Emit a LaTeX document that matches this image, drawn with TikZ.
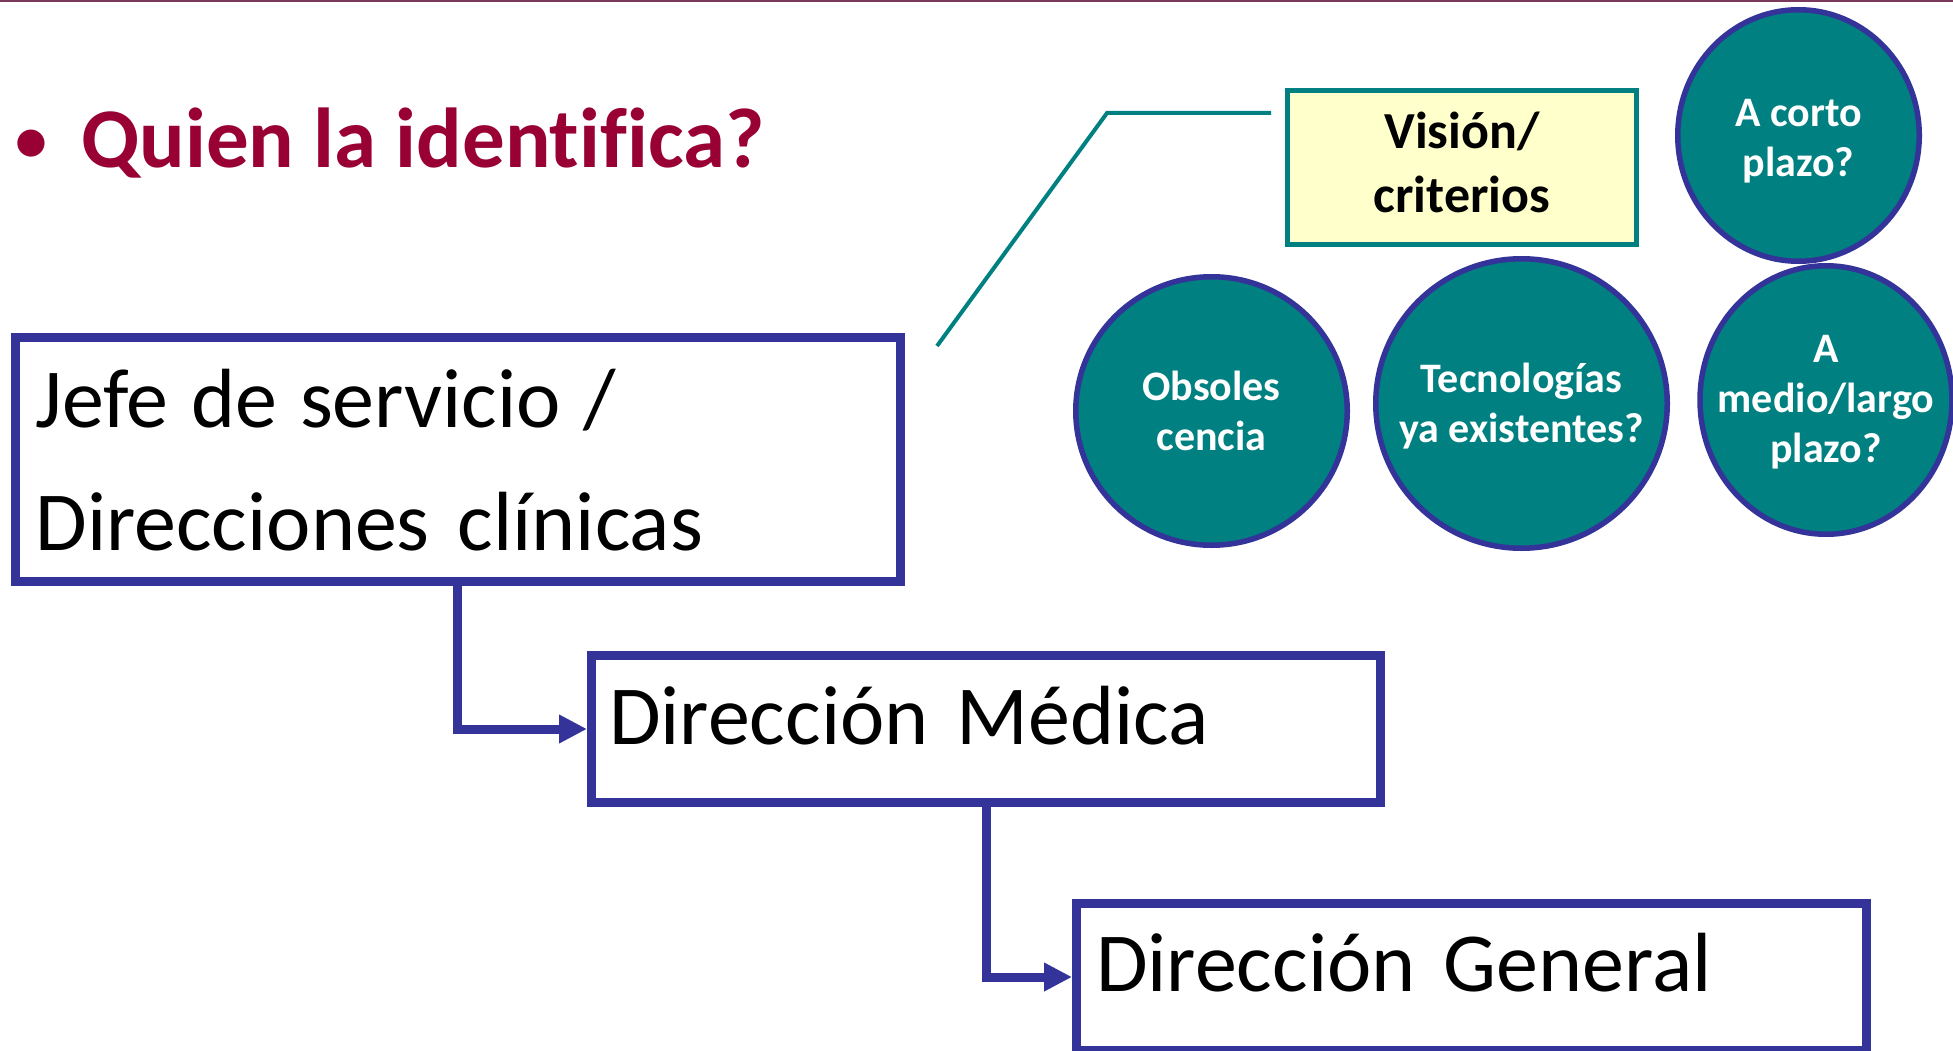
\documentclass[tikz,border=0pt]{standalone}
\usepackage{fontspec}
\setmainfont{Carlito}[Ligatures=CommonOff]
\usetikzlibrary{arrows.meta,shapes.geometric}
\definecolor{navy}{HTML}{333399}
\definecolor{tealc}{HTML}{008080}
\definecolor{maroonc}{HTML}{990033}
\definecolor{paleyel}{HTML}{FFFFCC}
\definecolor{toplinec}{HTML}{7A3A5E}
% zero-size centred stack whose first baseline sits #1 above the node centre
\newcommand\zstack[2]{\makebox[0pt]{\smash{\raisebox{#1}{\begin{tabular}[t]{@{}c@{}}#2\end{tabular}}}}}
% zero-size left-aligned stack: origin shifted #1 right of the centre, first baseline #2 above it
\newcommand\zlstack[3]{\makebox[0pt][l]{\hspace{#1}\smash{\raisebox{#2}{\begin{tabular}[t]{@{}l@{}}#3\end{tabular}}}}}
\begin{document}
\begin{tikzpicture}[x=1pt,y=-1pt,
  box/.style={draw=navy, line width=9pt, rectangle, inner sep=0pt, fill=white,
    font=\fontsize{84}{123}\selectfont},
  bubble/.style={ellipse, draw=navy, line width=5.5pt, fill=tealc, inner sep=0pt, text=white,
    font=\bfseries\fontsize{42}{50}\selectfont},
  link/.style={draw=navy, line width=9pt, -{Triangle[length=28pt,width=27pt]}},
  leader/.style={draw=tealc, line width=4pt},
]
\useasboundingbox (0,0) rectangle (1953,1051);
% top rule
\coordinate (tl) at (0,1.2);
\coordinate (tr) at (1953,1.2);
\draw[toplinec, line width=2.5pt] (tl) -- (tr);
% heading
\node[anchor=base west, text=maroonc, inner sep=0pt, font=\bfseries\fontsize{85}{100}\selectfont]
  (title) at (12,168) {\makebox[69pt][l]{\hspace{3pt}{\fontsize{64}{64}\selectfont\raisebox{6.5pt}{•}}}Quien la identifica?};
% boxes
\node[box, minimum width=884.5pt, minimum height=244.2pt]
  (jefe) at (457.75,459.6) {\zlstack{-422.25pt}{32.6pt}{\spaceskip=0.27em\relax Jefe de servicio /\\ \spaceskip=0.3333em\relax Direcciones clínicas}};
\node[box, minimum width=789pt, minimum height=147pt]
  (med) at (986,729) {\zlstack{-377pt}{-15pt}{\spaceskip=0.3333em\relax Dirección Médica}};
\node[box, minimum width=789.5pt, minimum height=147pt]
  (gen) at (1471.25,977) {\zlstack{-375.25pt}{-14.7pt}{\spaceskip=0.3333em\relax Dirección General}};
\draw[link] (jefe.south) |- (med.west);
\draw[link] (med.south) |- (gen.west);
% vision box
\node[draw=tealc, line width=5pt, fill=paleyel, minimum width=349pt, minimum height=154pt,
  inner sep=0pt, font=\bfseries\fontsize{52}{64}\selectfont]
  (vision) at (1462,167.5) {\zstack{18.5pt}{Visión/\\criterios}};
\coordinate (t1) at (937,346);
\coordinate (t2) at (1107,113);
\coordinate (t3) at (1271,113);
\draw[leader] (t1) -- (t2) -- (t3);
% bubbles
\node[bubble, minimum width=241.5pt, minimum height=251.5pt] (corto) at (1798.5,135.5) {\zstack{8.5pt}{A corto\\plazo?}};
\node[bubble, minimum width=271.5pt, minimum height=268.5pt] (obs) at (1211.5,411) {\zstack{11pt}{Obsoles\\cencia}};
\node[bubble, minimum width=291.5pt, minimum height=289.5pt] (tec) at (1521.5,403.5) {\zstack{11.5pt}{Tecnologías\\ya existentes?}};
\node[bubble, minimum width=252pt, minimum height=268.5pt] (largo) at (1826,400) {\zstack{38pt}{A\\medio/largo\\plazo?}};
\end{tikzpicture}
\end{document}
